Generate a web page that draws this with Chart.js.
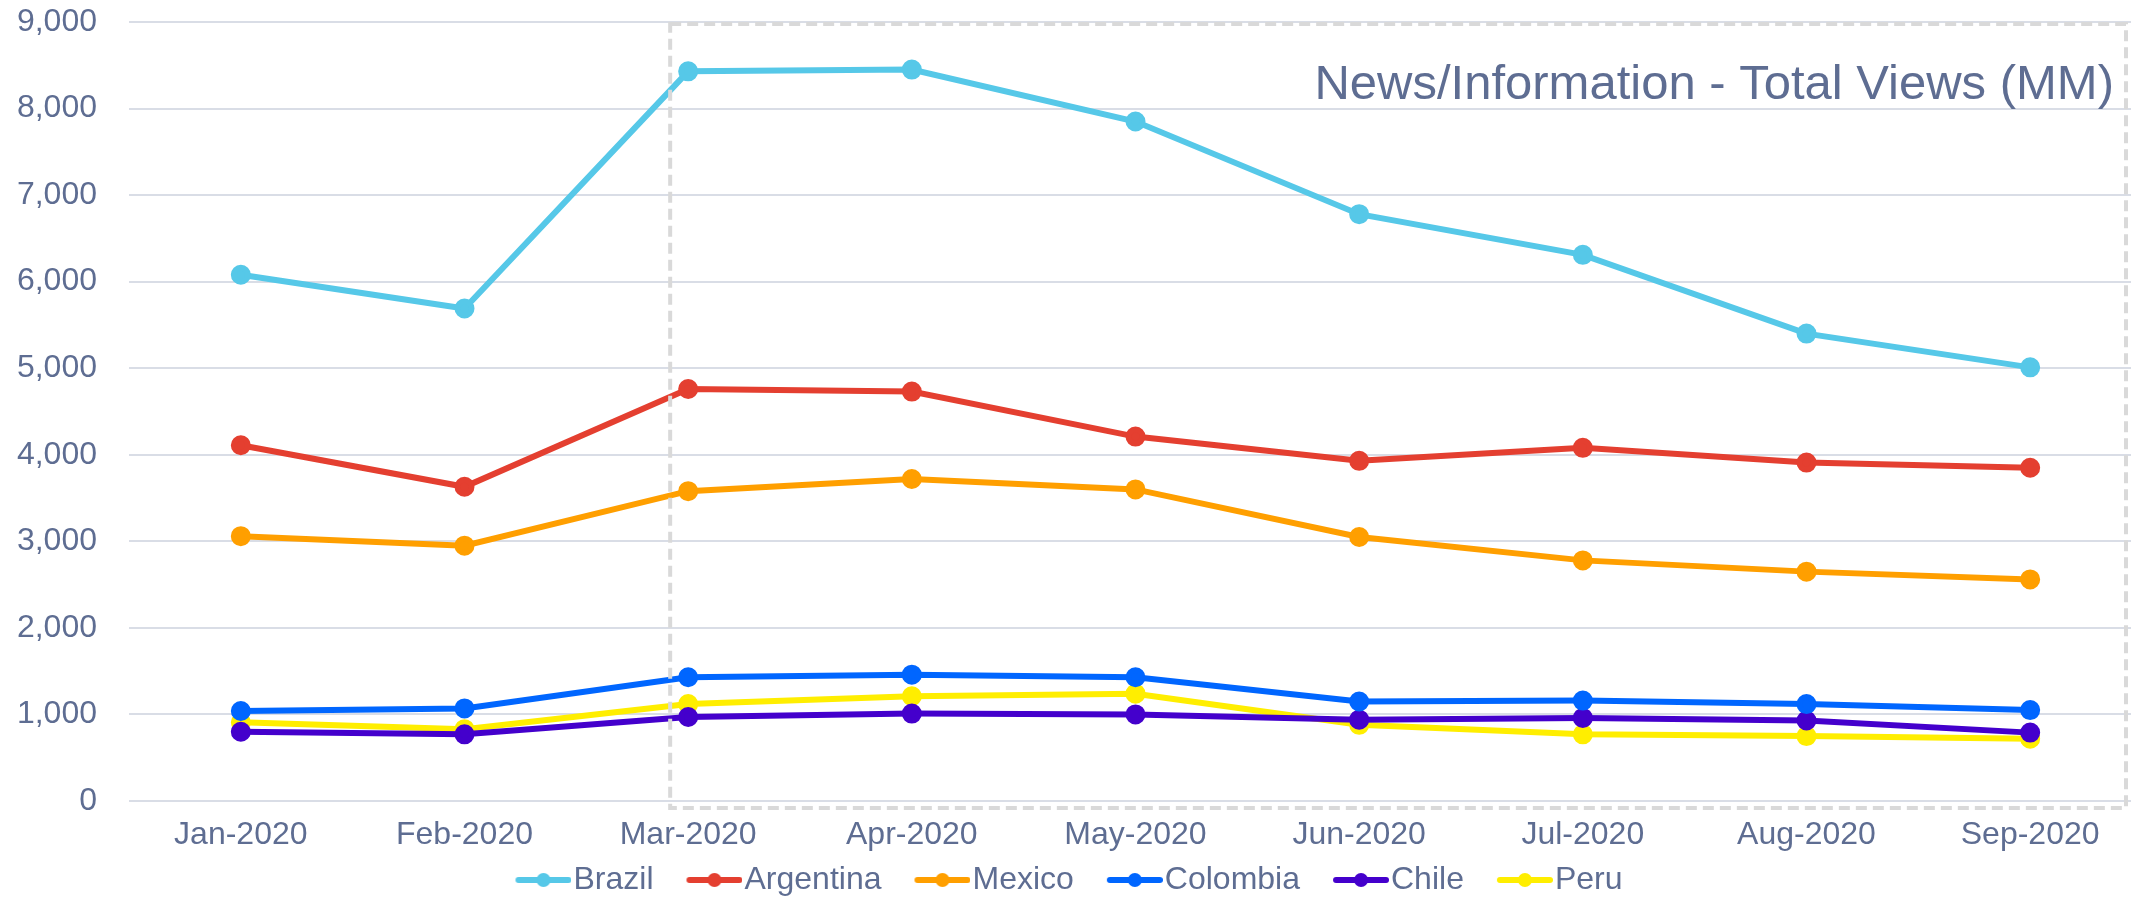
<!DOCTYPE html>
<html>
<head>
<meta charset="utf-8">
<script src="https://cdn.jsdelivr.net/npm/chart.js@4/dist/chart.umd.min.js"></script>
<style>
  html, body { margin: 0; padding: 0; background: #fff; overflow: hidden; }
  #view { width: 2131px; height: 897px; overflow: hidden; }
  /* plot runs slightly past the right edge, as in the reference */
  #wrap { width: 2155px; height: 897px; position: relative; }
</style>
</head>
<body>
<div id="view"><div id="wrap"><canvas id="chart"></canvas></div></div>
<script>
const months = ['Jan-2020', 'Feb-2020', 'Mar-2020', 'Apr-2020', 'May-2020', 'Jun-2020', 'Jul-2020', 'Aug-2020', 'Sep-2020'];
const brazil = [6080, 5690, 8430, 8450, 7850, 6780, 6310, 5400, 5010];
const argentina = [4110, 3630, 4760, 4730, 4210, 3930, 4080, 3910, 3850];
const mexico = [3060, 2950, 3580, 3720, 3600, 3050, 2780, 2650, 2560];
const colombia = [1040, 1070, 1430, 1460, 1430, 1150, 1160, 1120, 1050];
const chile = [800, 770, 970, 1010, 1000, 940, 960, 930, 790];
const peru = [910, 830, 1120, 1210, 1240, 880, 770, 750, 720];
const yTicks = [0, 1000, 2000, 3000, 4000, 5000, 6000, 7000, 8000, 9000];
const chartTitle = 'News/Information - Total Views (MM)';

const FONT = '"Liberation Sans", Arial, sans-serif';
const TEXT = '#5e6d92';
const VIEW_W = 2131;

function series(label, data, color) {
  return {
    label, data,
    borderColor: color,
    backgroundColor: color,
    pointBackgroundColor: color,
    pointBorderColor: color,
    borderWidth: 6,
    pointRadius: 7,
    pointHoverRadius: 7,
    tension: 0
  };
}

// legend marker: short line with a dot; blank space on the left makes the gap between items
function legendMarker(color) {
  const c = document.createElement('canvas');
  c.width = 99; c.height = 20;
  const g = c.getContext('2d');
  g.strokeStyle = color; g.lineWidth = 6; g.lineCap = 'round';
  g.beginPath(); g.moveTo(46, 10); g.lineTo(96, 10); g.stroke();
  g.fillStyle = color;
  g.beginPath(); g.arc(71, 10, 7, 0, Math.PI * 2); g.fill();
  return c;
}

const boxPlugin = {
  id: 'boxPlugin',
  afterLayout(chart) {
    // nudge legend to where the reference has it
    const lg = chart.legend;
    lg.left -= 23; lg.right -= 23;
    lg.top += 9; lg.bottom += 9;
  },
  afterDraw(chart) {
    const { ctx, chartArea, scales } = chart;
    const left = scales.x.getPixelForValue(2) - 18;
    const top = chartArea.top + 2;
    const right = VIEW_W - 5;
    const bottom = chartArea.bottom + 7;
    ctx.save();
    ctx.strokeStyle = '#d9d9d9';
    ctx.lineWidth = 4;
    ctx.setLineDash([11, 6]);
    ctx.strokeRect(left, top, right - left, bottom - top);
    ctx.setLineDash([]);
    ctx.fillStyle = TEXT;
    ctx.font = '49px ' + FONT;
    ctx.textAlign = 'right';
    ctx.textBaseline = 'middle';
    ctx.fillText(chartTitle, VIEW_W - 17, chartArea.top + 63);
    ctx.restore();
  }
};

new Chart(document.getElementById('chart'), {
  type: 'line',
  data: {
    labels: months,
    datasets: [
      series('Brazil', brazil, '#56c8e8'),
      series('Argentina', argentina, '#e43f30'),
      series('Mexico', mexico, '#ff9f00'),
      series('Colombia', colombia, '#0066ff'),
      series('Chile', chile, '#4400cc'),
      series('Peru', peru, '#ffee00')
    ]
  },
  options: {
    responsive: true,
    maintainAspectRatio: false,
    animation: false,
    layout: { padding: { top: 22, right: 0, bottom: 0, left: 0 } },
    scales: {
      x: {
        offset: true,
        afterFit(scale) { scale.height = 50; scale.paddingLeft = 0; scale.paddingRight = 0; },
        grid: { display: false, drawTicks: false },
        border: { display: false },
        ticks: { color: TEXT, font: { family: FONT, size: 32 }, padding: 15, maxRotation: 0 }
      },
      y: {
        min: 0,
        max: 9000,
        afterFit(scale) { scale.width = 129; scale.paddingTop = 0; scale.paddingBottom = 0; },
        afterBuildTicks(scale) { scale.ticks = yTicks.map(v => ({ value: v })); },
        grid: { color: '#d9dde6', lineWidth: 2, drawTicks: false },
        border: { display: false },
        ticks: {
          color: TEXT,
          font: { family: FONT, size: 32 },
          padding: 32,
          callback: v => v.toLocaleString('en-US')
        }
      }
    },
    plugins: {
      legend: {
        position: 'bottom',
        labels: {
          color: TEXT,
          font: { family: FONT, size: 32 },
          usePointStyle: true,
          pointStyleWidth: 71,
          padding: 4,
          generateLabels(chart) {
            return chart.data.datasets.map((ds, i) => ({
              text: ds.label,
              fontColor: TEXT,
              pointStyle: legendMarker(ds.borderColor),
              fillStyle: ds.borderColor,
              strokeStyle: ds.borderColor,
              lineWidth: 0,
              hidden: false,
              datasetIndex: i
            }));
          }
        }
      },
      title: { display: false },
      tooltip: { enabled: false }
    }
  },
  plugins: [boxPlugin]
});
</script>
</body>
</html>
